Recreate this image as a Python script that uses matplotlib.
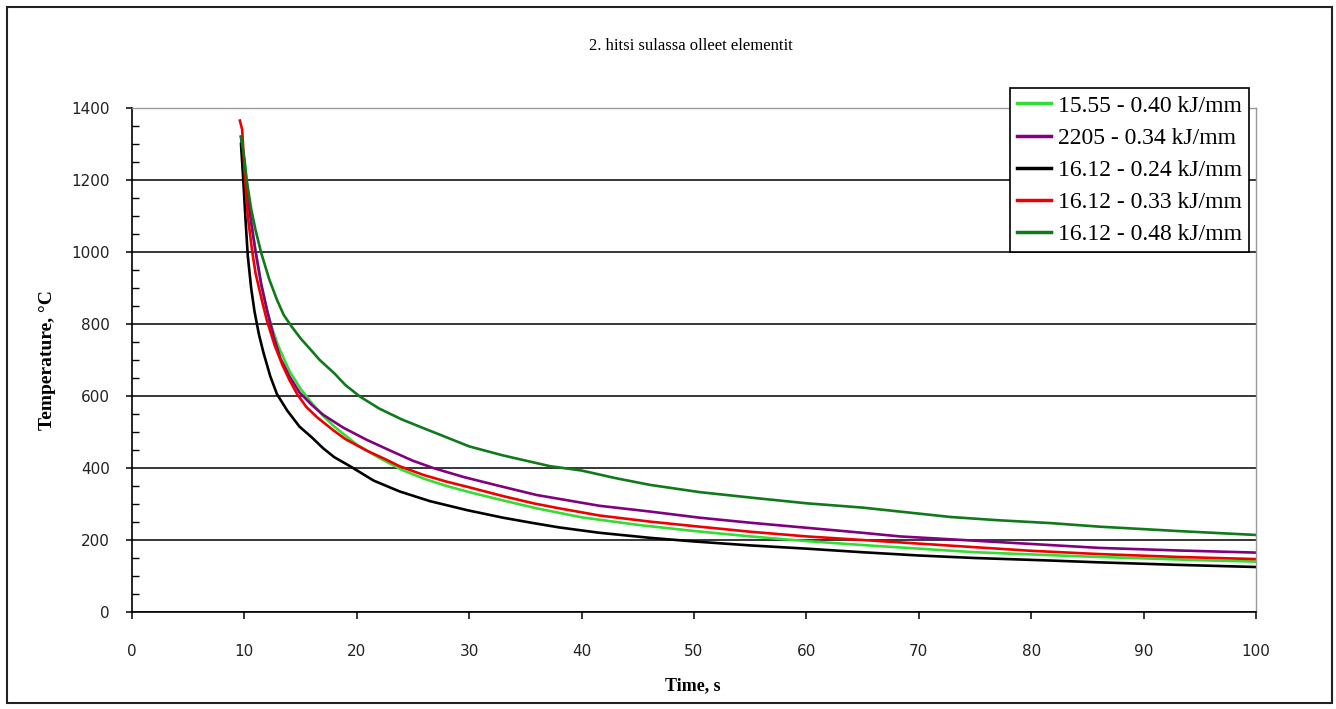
import matplotlib.pyplot as plt
from matplotlib.patches import Rectangle
from matplotlib.ticker import MultipleLocator

# Cooling curves (time s, temperature °C) read per weld
t_1555_040 = [9.7, 10.0, 10.3, 10.7, 11.0, 11.5, 12.0, 12.5, 13.0, 14.0, 15.0, 16.0, 17.0, 18.0, 19.0, 20.0,
              22.0, 24.0, 26.0, 28.0, 30.0, 33.0, 36.0, 40.0, 45.0, 50.0, 55.0, 60.0, 65.0, 70.0, 75.0,
              80.0, 85.0, 90.0, 95.0, 100.0]
T_1555_040 = [1320, 1250, 1170, 1070, 1000, 910, 840, 785, 740, 670, 620, 580, 545, 515, 490, 465,
              428, 395, 370, 350, 333, 310, 288, 263, 242, 225, 210, 197, 186, 176, 166,
              160, 154, 149, 144, 140]

t_2205_034 = [9.7, 10.0, 10.3, 10.7, 11.0, 11.5, 12.0, 12.6, 13.2, 14.0, 14.9, 16.0, 17.0, 18.8, 20.9,
              23.0, 25.0, 26.8, 29.5, 32.7, 36.0, 41.6, 46.1, 50.5, 55.0, 60.0, 65.0, 68.3, 72.8, 80.0,
              86.1, 93.0, 100.0]
T_2205_034 = [1320, 1230, 1150, 1060, 1000, 910, 840, 765, 705, 655, 610, 575, 548, 512, 478,
              448, 420, 400, 375, 350, 325, 295, 279, 262, 248, 234, 220, 210, 202, 189,
              178, 171, 165]

t_1612_024 = [9.7, 9.9, 10.1, 10.3, 10.6, 10.9, 11.3, 11.7, 12.3, 12.9, 13.8, 14.9, 16.0, 17.0, 18.0,
              19.4, 21.5, 23.8, 26.5, 29.8, 33.0, 35.7, 38.0, 41.6, 46.1, 50.0, 55.0, 60.0, 65.0,
              70.0, 75.0, 81.7, 86.0, 93.0, 100.0]
T_1612_024 = [1300, 1200, 1090, 990, 900, 835, 770, 720, 655, 605, 560, 515, 485, 455, 430,
              405, 365, 335, 308, 283, 262, 247, 235, 220, 206, 196, 185, 176, 166,
              157, 150, 143, 138, 131, 125]

t_1612_033 = [9.6, 9.8, 10.0, 10.3, 10.7, 11.0, 11.6, 12.0, 12.7, 13.4, 14.0, 14.7, 15.5, 16.5, 17.9,
              19.0, 20.9, 22.5, 23.8, 26.0, 28.0, 29.8, 33.0, 35.7, 38.0, 41.6, 46.1, 50.5, 55.0,
              60.0, 65.0, 70.0, 75.0, 80.0, 86.0, 93.0, 100.0]
T_1612_033 = [1365, 1340, 1230, 1100, 1000, 940, 860, 810, 740, 685, 645, 605, 570, 540, 505,
              480, 448, 425, 405, 380, 362, 348, 322, 302, 288, 268, 251, 237, 223,
              210, 200, 190, 180, 170, 161, 153, 147]

t_1612_048 = [9.7, 10.0, 10.2, 10.6, 11.0, 11.5, 12.2, 12.9, 13.5, 14.2, 15.0, 16.0, 16.7, 18.0, 19.0,
              20.3, 22.0, 24.0, 25.9, 28.0, 30.0, 33.0, 37.2, 40.0, 43.0, 46.1, 50.5, 55.0, 60.0,
              65.0, 68.3, 72.8, 77.0, 81.7, 86.1, 93.0, 100.0]
T_1612_048 = [1320, 1260, 1200, 1120, 1060, 997, 925, 867, 825, 793, 760, 725, 700, 663, 630,
              598, 565, 535, 511, 485, 460, 435, 405, 393, 372, 353, 333, 318, 302,
              290, 279, 264, 255, 247, 237, 225, 214]

labels = ['15.55 - 0.40 kJ/mm', '2205 - 0.34 kJ/mm', '16.12 - 0.24 kJ/mm',
          '16.12 - 0.33 kJ/mm', '16.12 - 0.48 kJ/mm']
colors = ['#33dd33', '#800080', '#000000', '#ee0000', '#0f7a1a']

series = [(t_1555_040, T_1555_040), (t_2205_034, T_2205_034), (t_1612_024, T_1612_024),
          (t_1612_033, T_1612_033), (t_1612_048, T_1612_048)]

serif = ['Liberation Serif', 'DejaVu Serif']

fig = plt.figure(figsize=(13.36, 7.09), dpi=100)
ax = fig.add_axes([0.0988, 0.1368, 0.8413, 0.7109])

# outer chart frame
fig.patches.append(Rectangle((7 / 1336, 6 / 709), 1325 / 1336, 696 / 709,
                             transform=fig.transFigure, fill=False,
                             edgecolor='#222222', linewidth=1.5))

for (t, T), lab, c in zip(series, labels, colors):
    ax.plot(t, T, color=c, lw=1.9, label=lab, solid_joinstyle='round')

ax.set_xlim(0, 100)
ax.set_ylim(0, 1400)
ax.xaxis.set_major_locator(MultipleLocator(10))
ax.yaxis.set_major_locator(MultipleLocator(200))
ax.yaxis.set_minor_locator(MultipleLocator(50))
ax.grid(axis='y', which='major', color='black', lw=1.1)
ax.set_axisbelow(True)

for s in ['top', 'right']:
    ax.spines[s].set_color('#999999')
    ax.spines[s].set_linewidth(1.0)
for s in ['left', 'bottom']:
    ax.spines[s].set_color('black')
    ax.spines[s].set_linewidth(1.2)

ax.tick_params(axis='x', which='major', direction='out', length=5, width=1.1,
               pad=18, labelsize=11, labelcolor='#222222')
ax.tick_params(axis='y', which='major', direction='out', length=4, width=1.1,
               pad=12, labelsize=11, labelcolor='#222222')
ax.tick_params(axis='y', which='minor', direction='in', length=5, width=1.0)

fig.text(0.517, 1 - 46 / 709, '2. hitsi sulassa olleet elementit',
         ha='center', va='center', fontsize=12, family=serif)
fig.text(48 / 1336, 1 - 360 / 709, 'Temperature, °C', rotation=90,
         ha='center', va='center', fontsize=14, fontweight='bold', family=serif)
fig.text(693 / 1336, 1 - 686 / 709, 'Time, s',
         ha='center', va='center', fontsize=13, fontweight='bold', family=serif)

leg = ax.legend(loc='upper right', bbox_to_anchor=(1249 / 1336, 1 - 88 / 709),
                bbox_transform=fig.transFigure, fancybox=False, framealpha=1,
                edgecolor='black', prop={'family': serif, 'size': 17},
                handlelength=1.45, handletextpad=0.3, labelspacing=0.45,
                borderpad=0.3, borderaxespad=0)
leg.get_frame().set_linewidth(1.2)
for line in leg.get_lines():
    line.set_linewidth(2.5)

fig.savefig('out.png', dpi=100)
